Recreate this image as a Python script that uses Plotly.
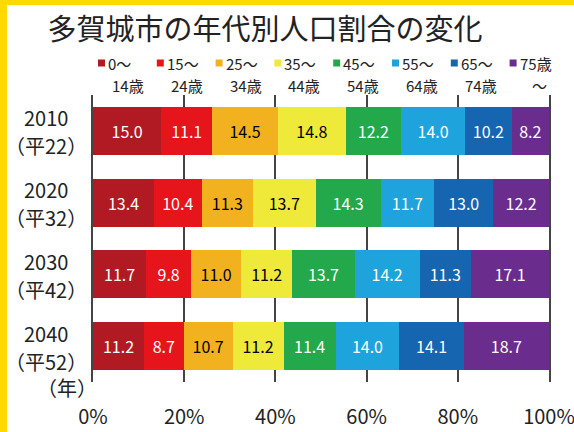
import plotly.graph_objects as go

years = ["2010", "2020", "2030", "2040"]
era_labels = ["（平22）", "（平32）", "（平42）", "（平52）"]
groups_line1 = ["0～", "15～", "25～", "35～", "45～", "55～", "65～", "75歳"]
groups_line2 = ["14歳", "24歳", "34歳", "44歳", "54歳", "64歳", "74歳", "～"]
colors = ["#B11A23", "#E6141B", "#F2B21F", "#EFE93A", "#23A94B", "#1FA3DC", "#1565B0", "#6A2C8D"]
text_colors = ["white", "white", "black", "black", "white", "white", "white", "white"]

v_0_14 = [15.0, 13.4, 11.7, 11.2]
v_15_24 = [11.1, 10.4, 9.8, 8.7]
v_25_34 = [14.5, 11.3, 11.0, 10.7]
v_35_44 = [14.8, 13.7, 11.2, 11.2]
v_45_54 = [12.2, 14.3, 13.7, 11.4]
v_55_64 = [14.0, 11.7, 14.2, 14.0]
v_65_74 = [10.2, 13.0, 11.3, 14.1]
v_75 = [8.2, 12.2, 17.1, 18.7]
series = [v_0_14, v_15_24, v_25_34, v_35_44, v_45_54, v_55_64, v_65_74, v_75]

xticks = [0, 20, 40, 60, 80, 100]
xticktext = ["0%", "20%", "40%", "60%", "80%", "100%"]

FONT = "Noto Sans CJK JP, Noto Sans, sans-serif"
W, H = 574, 432
L, R, T, B = 93, 25, 95, 50
pw, ph = W - L - R, H - T - B

def px_x(px):
    return (px - L) / pw

def px_y(py):
    return (H - B - py) / ph

fig = go.Figure()
for i, vals in enumerate(series):
    fig.add_trace(go.Bar(
        y=years, x=list(vals), orientation="h",
        name=groups_line1[i] + groups_line2[i],
        marker=dict(color=colors[i], line=dict(width=0)),
        text=[f"{v:.1f}" for v in vals], textposition="inside",
        insidetextanchor="middle",
        textfont=dict(family=FONT, size=16, color=text_colors[i]),
        showlegend=False,
    ))

annotations = []
shapes = []
# yellow border (top and left)
shapes.append(dict(type="rect", xref="paper", yref="paper", x0=px_x(0), x1=px_x(7),
                   y0=px_y(H), y1=px_y(0), fillcolor="#FFDA00", line=dict(width=0), layer="below"))
shapes.append(dict(type="rect", xref="paper", yref="paper", x0=px_x(0), x1=px_x(W),
                   y0=px_y(5), y1=px_y(0), fillcolor="#FFDA00", line=dict(width=0), layer="below"))

# legend
for i in range(8):
    sx = 98 + 58.8 * i
    shapes.append(dict(type="rect", xref="paper", yref="paper", x0=px_x(sx), x1=px_x(sx + 7),
                       y0=px_y(66.5), y1=px_y(59.5), fillcolor=colors[i], line=dict(width=0)))
    annotations.append(dict(xref="paper", yref="paper", x=px_x(sx + 8), y=px_y(63),
                            xanchor="left", yanchor="middle", showarrow=False,
                            text=groups_line1[i], font=dict(family=FONT, size=15, color="#222")))
    annotations.append(dict(xref="paper", yref="paper", x=px_x(sx + 30), y=px_y(85),
                            xanchor="center", yanchor="middle", showarrow=False,
                            text=groups_line2[i], font=dict(family=FONT, size=15, color="#222")))

# y labels (category index positions)
for k, (yr, era) in enumerate(zip(years, era_labels)):
    annotations.append(dict(xref="paper", yref="y", x=px_x(46), y=k, yshift=13, borderpad=0,
                            xanchor="center", yanchor="middle", showarrow=False, text=yr,
                            font=dict(family=FONT, size=20, color="#222")))
    annotations.append(dict(xref="paper", yref="y", x=px_x(46), y=k, yshift=-15, borderpad=0,
                            xanchor="center", yanchor="middle", showarrow=False, text=era,
                            font=dict(family=FONT, size=20, color="#222")))
annotations.append(dict(xref="paper", yref="paper", x=px_x(67), y=px_y(387), xanchor="center",
                        yanchor="middle", showarrow=False, text="（年）",
                        font=dict(family=FONT, size=20, color="#222")))

fig.update_layout(
    width=W, height=H,
    margin=dict(l=L, r=R, t=T, b=B),
    barmode="stack", bargap=0.33,
    paper_bgcolor="white", plot_bgcolor="white",
    title=dict(text="多賀城市の年代別人口割合の変化", x=265 / W, xanchor="center",
               y=1 - 30 / H, yanchor="middle",
               font=dict(family=FONT, size=29, color="#222")),
    xaxis=dict(range=[0, 100], tickmode="array", tickvals=xticks, ticktext=xticktext,
               showgrid=True, gridcolor="#444", gridwidth=1.5, zeroline=False, showline=False,
               ticks="outside", ticklen=17, tickcolor="rgba(0,0,0,0)",
               ticklabeloverflow="allow", automargin=False,
               tickfont=dict(family=FONT, size=20, color="#222")),
    yaxis=dict(type="category", categoryorder="array", categoryarray=years,
               autorange="reversed", showticklabels=False, showgrid=False, automargin=False,
               zeroline=False, showline=True, mirror=True, linecolor="#444", linewidth=1.5),
    shapes=shapes, annotations=annotations,
    font=dict(family=FONT),
)

fig.write_html("out.html")
